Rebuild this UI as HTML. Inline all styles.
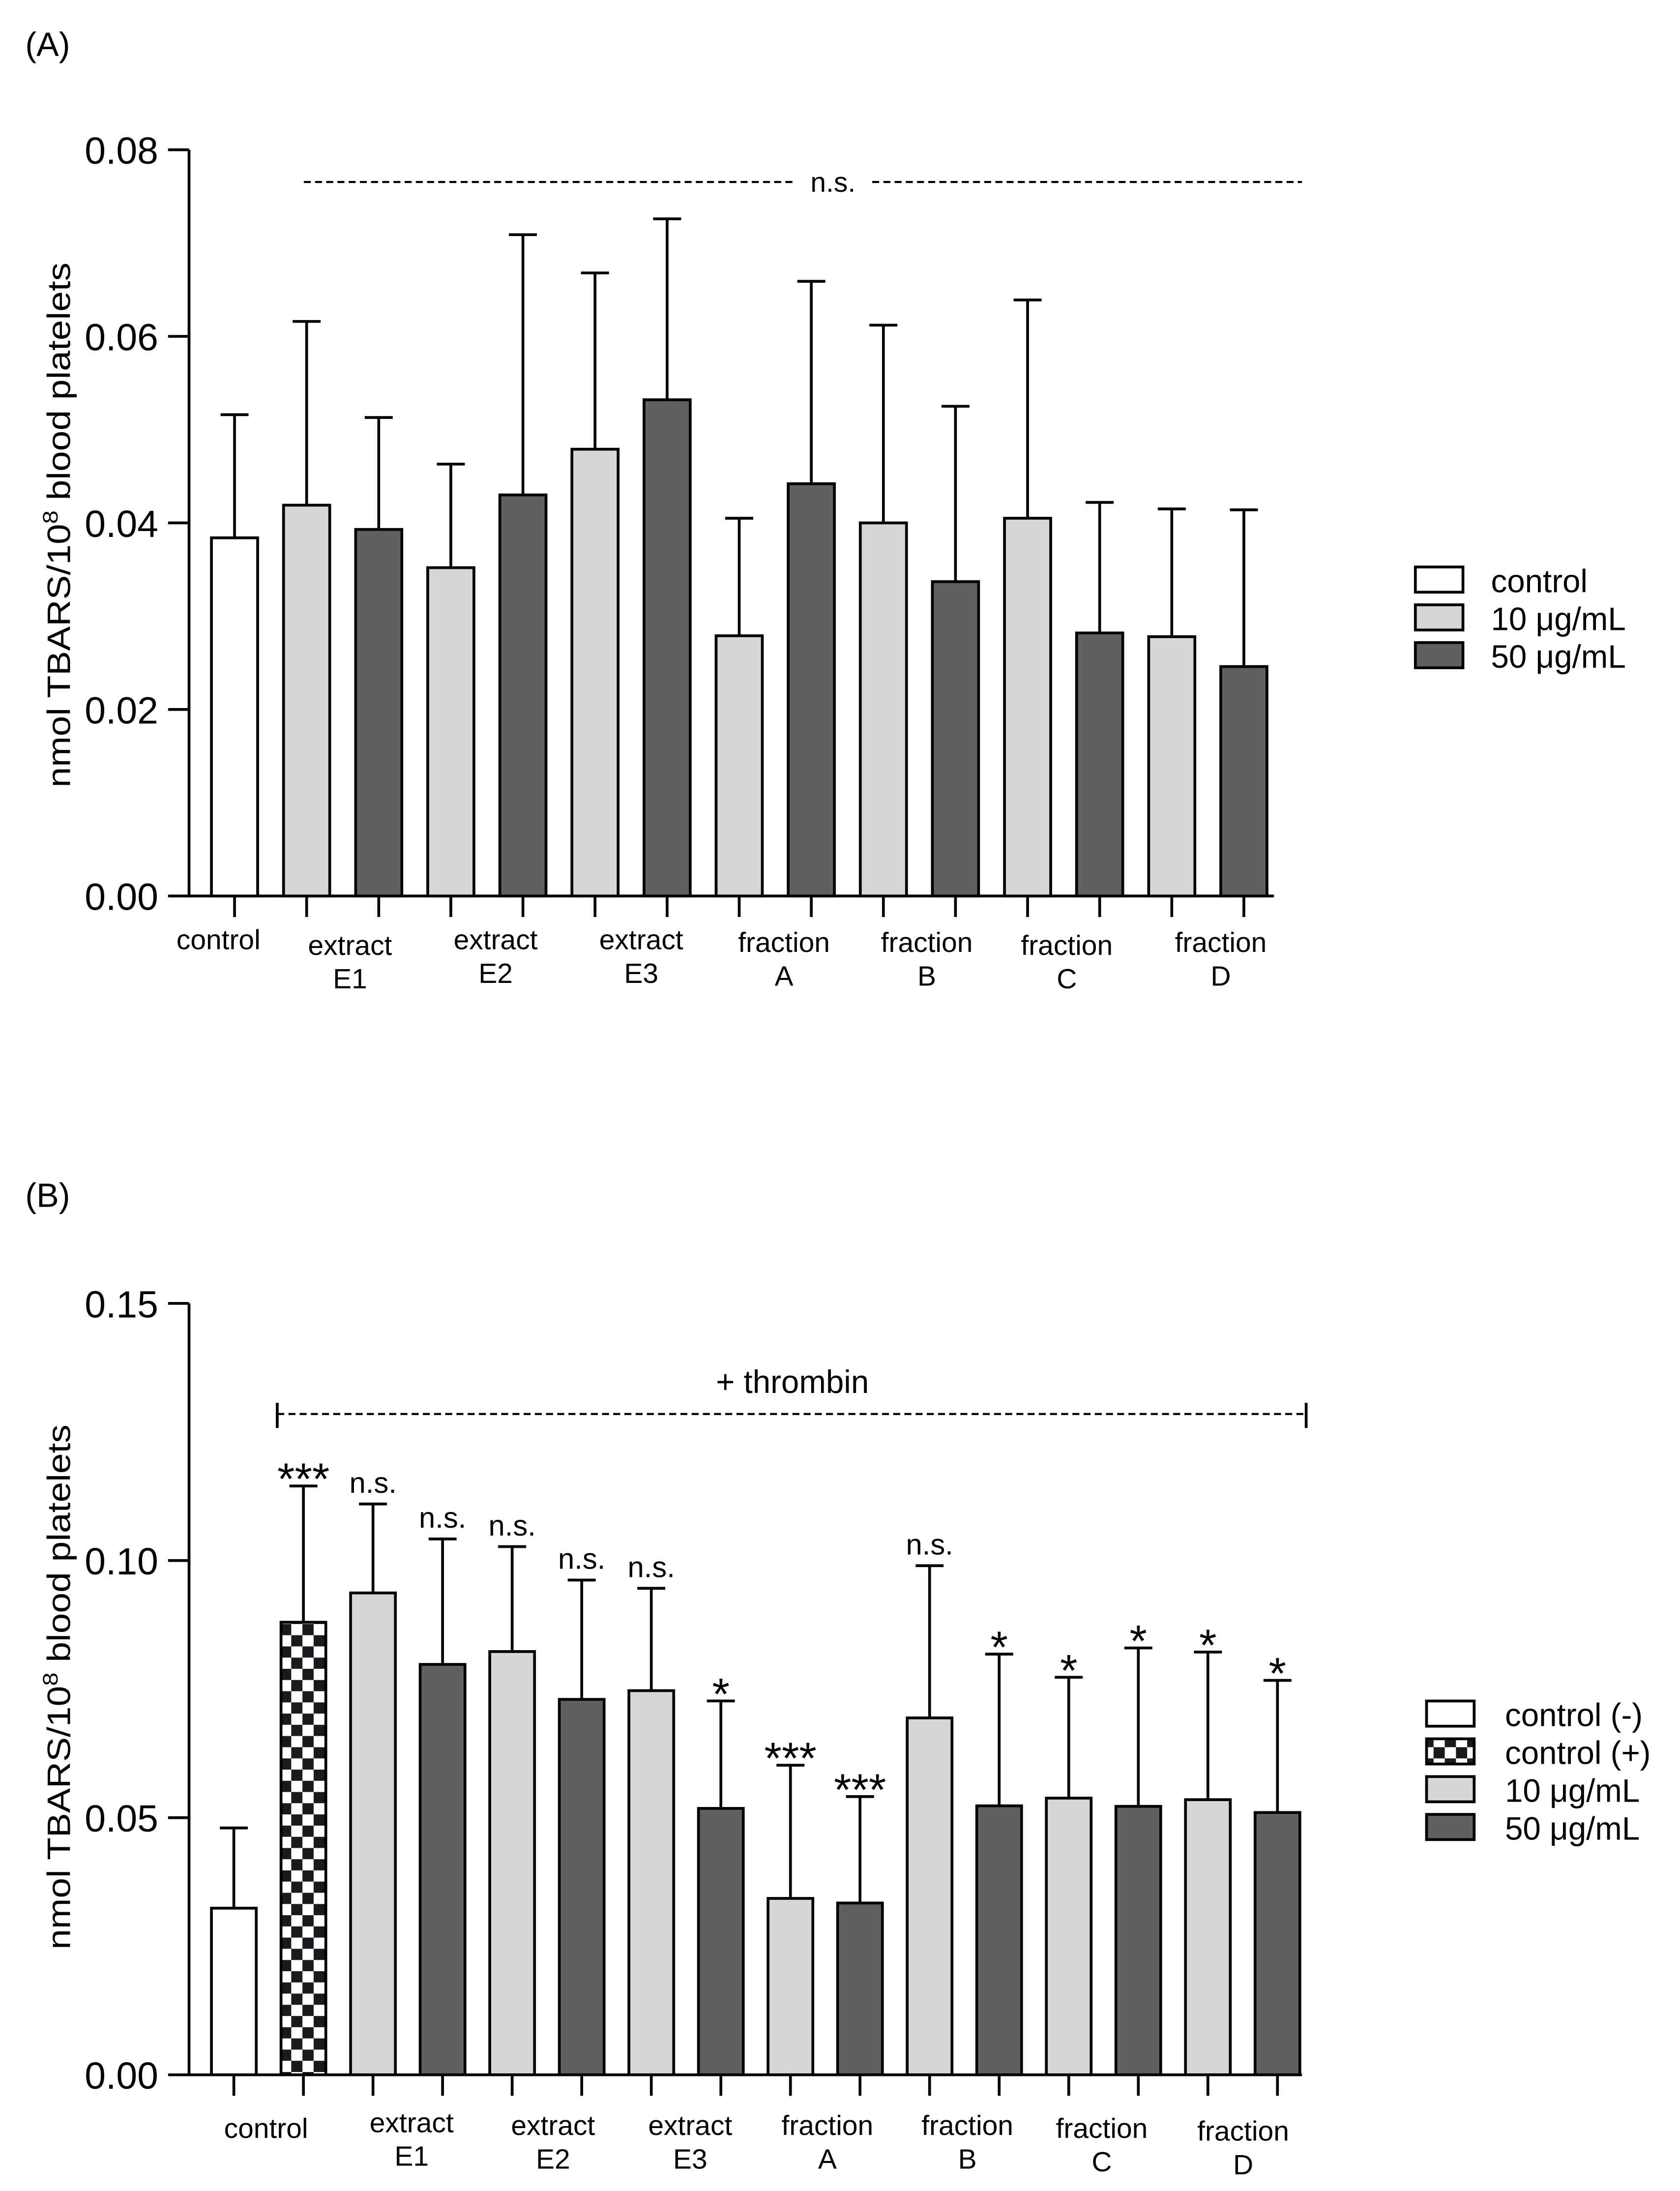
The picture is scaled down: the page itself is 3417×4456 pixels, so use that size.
<!DOCTYPE html>
<html><head><meta charset="utf-8"><style>
html,body{margin:0;padding:0;background:#fff;}
svg{display:block;}
text{font-family:"Liberation Sans",Arial,sans-serif;fill:#000;}
</style></head><body>
<svg id="chart" width="3417" height="4456" viewBox="0 0 1200 1565" xmlns="http://www.w3.org/2000/svg">
<defs>
<pattern id="checker" width="16" height="16" patternUnits="userSpaceOnUse">
<rect width="16" height="16" fill="#fff"/>
<rect width="8" height="8" fill="#1a1a1f"/>
<rect x="8" y="8" width="8" height="8" fill="#1a1a1f"/>
</pattern>
</defs>
<g id="gA"></g>
<g id="gB"></g>
</svg>
<script>
// Panel A data
const catsA = ["control","E1-10","E1-50","E2-10","E2-50","E3-10","E3-50","A-10","A-50","B-10","B-50","C-10","C-50","D-10","D-50"];
const typesA = ["c","l","d","l","d","l","d","l","d","l","d","l","d","l","d"];
const valsA = [0.0384,0.0419,0.0393,0.0352,0.0430,0.0479,0.0532,0.0279,0.0442,0.0400,0.0337,0.0405,0.0282,0.0278,0.0246];
const errA = [0.0516,0.0616,0.0513,0.0463,0.0709,0.0668,0.0726,0.0405,0.0659,0.0612,0.0525,0.0639,0.0422,0.0415,0.0414];
const ticksA = [0,0.02,0.04,0.06,0.08];
const tickLabelsA = ["0.00","0.02","0.04","0.06","0.08"];
// Panel B data
const catsB = ["control-","control+","E1-10","E1-50","E2-10","E2-50","E3-10","E3-50","A-10","A-50","B-10","B-50","C-10","C-50","D-10","D-50"];
const typesB = ["c","k","l","d","l","d","l","d","l","d","l","d","l","d","l","d"];
const valsB = [0.0324,0.0880,0.0937,0.0798,0.0823,0.0730,0.0747,0.0518,0.0343,0.0334,0.0694,0.0523,0.0538,0.0522,0.0535,0.0510];
const errB = [0.0480,0.1145,0.1110,0.1042,0.1027,0.0962,0.0946,0.0727,0.0602,0.0541,0.0990,0.0818,0.0773,0.0830,0.0822,0.0767];
const sigB = ["","***","n.s.","n.s.","n.s.","n.s.","n.s.","*","***","***","n.s.","*","*","*","*","*"];
const ticksB = [0,0.05,0.10,0.15];
const tickLabelsB = ["0.00","0.05","0.10","0.15"];

const NS="http://www.w3.org/2000/svg";
function mk(parent,tag,attrs,txt){const e=document.createElementNS(NS,tag);for(const k in attrs)e.setAttribute(k,attrs[k]);if(txt!==undefined)e.textContent=txt;parent.appendChild(e);return e;}
const fills={c:"#ffffff",l:"#d6d6d6",d:"#606060",k:"url(#checker)"};

function panel(g,cfg){
  const y=v=>cfg.y0-(v/cfg.vmax)*(cfg.y0-cfg.yTop);
  const x=i=>cfg.x0+i*cfg.step;
  const ax=mk(g,"line",{x1:135,y1:cfg.yTop,x2:135,y2:cfg.y0,stroke:"#000","stroke-width":2});
  
  
  const xa=mk(g,"line",{x1:134,y1:cfg.y0,x2:cfg.xEnd,y2:cfg.y0,stroke:"#000","stroke-width":2});
  
  
  cfg.ticks.forEach((t,i)=>{
    mk(g,"line",{x1:120,y1:y(t),x2:135,y2:y(t),stroke:"#000","stroke-width":2});
    const tl=mk(g,"text",{x:113,y:y(t)+10,"text-anchor":"end","font-size":27},cfg.tickLabels[i]);
    
    
  });
  cfg.vals.forEach((v,i)=>{
    const cx=x(i), w=cfg.bw;
    mk(g,"line",{x1:cx,y1:y(v),x2:cx,y2:y(cfg.err[i]),stroke:"#000","stroke-width":2});
    mk(g,"line",{x1:cx-10,y1:y(cfg.err[i]),x2:cx+10,y2:y(cfg.err[i]),stroke:"#000","stroke-width":2});
    const b=mk(g,"rect",{x:cx-w/2,y:y(v),width:w,height:cfg.y0-y(v),fill:fills[cfg.types[i]],stroke:"#000","stroke-width":2});
    
    
    mk(g,"line",{x1:cx,y1:cfg.y0,x2:cx,y2:cfg.y0+15,stroke:"#000","stroke-width":2});
    if(cfg.sig && cfg.sig[i]){
      const s=cfg.sig[i];
      const star=s.indexOf("*")>=0;
      const st=mk(g,"text",{x:cx,y:y(cfg.err[i])+(star?6:-8),"text-anchor":"middle","font-size":star?32:21},s);
      
      
    }
  });
}

const gA=document.getElementById("gA");
panel(gA,{x0:167.5,step:51.5,bw:33,y0:640,yTop:107,vmax:0.08,ticks:ticksA,tickLabels:tickLabelsA,vals:valsA,err:errA,types:typesA,cats:catsA,xEnd:910});
const gB=document.getElementById("gB");
panel(gB,{x0:167,step:49.7,bw:32,y0:1482,yTop:931,vmax:0.15,ticks:ticksB,tickLabels:tickLabelsB,vals:valsB,err:errB,types:typesB,cats:catsB,sig:sigB,xEnd:930});

function txt(g,x,y,s,size,name,anchor){const t=mk(g,"text",{x:x,y:y,"font-size":size,"text-anchor":anchor||"middle"},s);return t;}
txt(gA,18,40,"(A)",24,"panel-a-label","start");
txt(gB,18,862,"(B)",24,"panel-b-label","start");
[[375,gA],[1205,gB]].forEach(([cy,g])=>{
  const t=mk(g,"text",{transform:`translate(50,${cy}) rotate(-90)`,"text-anchor":"middle","font-size":23,textLength:375,lengthAdjust:"spacingAndGlyphs"});
  
  
  t.appendChild(document.createTextNode("nmol TBARS/10"));
  mk(t,"tspan",{dy:-9,"font-size":15},"8");
  mk(t,"tspan",{dy:9}," blood platelets");
});
const labA=[[156,678,"control",""],[250,682,"extract","E1"],[354,678,"extract","E2"],[458,678,"extract","E3"],[560,680,"fraction","A"],[662,680,"fraction","B"],[762,682,"fraction","C"],[872,680,"fraction","D"]];
labA.forEach(l=>{txt(gA,l[0],l[1],l[2],20,"x-category-label");if(l[3])txt(gA,l[0],l[1]+24,l[3],20,"x-category-label");});
const labB=[[190,1527,"control",""],[294,1523,"extract","E1"],[395,1525,"extract","E2"],[493,1525,"extract","E3"],[591,1525,"fraction","A"],[691,1525,"fraction","B"],[787,1527,"fraction","C"],[888,1529,"fraction","D"]];
labB.forEach(l=>{txt(gB,l[0],l[1],l[2],20,"x-category-label");if(l[3])txt(gB,l[0],l[1]+24,l[3],20,"x-category-label");});
mk(gA,"line",{x1:217,y1:130,x2:567,y2:130,stroke:"#000","stroke-width":1.5,"stroke-dasharray":"5,3"});
mk(gA,"line",{x1:623,y1:130,x2:930,y2:130,stroke:"#000","stroke-width":1.5,"stroke-dasharray":"5,3"});
txt(gA,595,137,"n.s.",20,"ns-annotation");
mk(gB,"line",{x1:198,y1:1010,x2:933,y2:1010,stroke:"#000","stroke-width":1.5,"stroke-dasharray":"5,3"});
mk(gB,"line",{x1:198,y1:1002,x2:198,y2:1020,stroke:"#000","stroke-width":2});
mk(gB,"line",{x1:933,y1:1002,x2:933,y2:1020,stroke:"#000","stroke-width":2});
txt(gB,566,995,"+ thrombin",23,"thrombin-annotation");
const legA=[["c","control"],["l","10 \u03bcg/mL"],["d","50 \u03bcg/mL"]];
legA.forEach((e,i)=>{const yy=405+i*27;
  const r=mk(gA,"rect",{x:1011,y:yy,width:34,height:18,fill:fills[e[0]],stroke:"#000","stroke-width":2});
  
  
  txt(gA,1065,yy+18,e[1],23,"legend-entry","start");});
const legB=[["c","control (-)"],["k","control (+)"],["l","10 \u03bcg/mL"],["d","50 \u03bcg/mL"]];
legB.forEach((e,i)=>{const yy=1215+i*27;
  const r=mk(gB,"rect",{x:1019,y:yy,width:34,height:18,fill:fills[e[0]],stroke:"#000","stroke-width":2});
  
  
  txt(gB,1075,yy+18,e[1],23,"legend-entry","start");});
</script>
</body></html>
